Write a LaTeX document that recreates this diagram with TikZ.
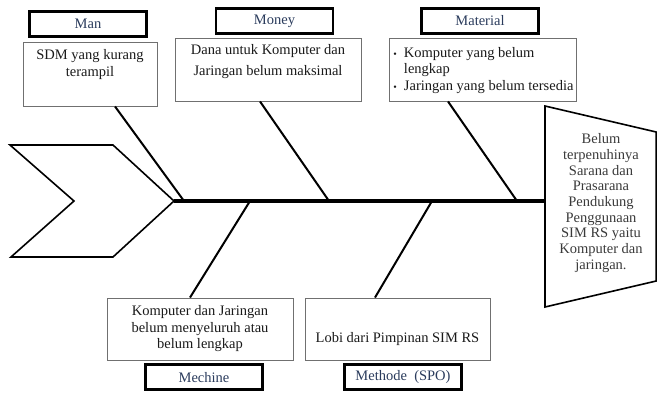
\documentclass[tikz,border=0pt]{standalone}
\usepackage{fontspec}
\setmainfont{Liberation Serif}
\usetikzlibrary{positioning,calc}
\definecolor{fishink}{HTML}{1A1A1A}
\definecolor{fishnavy}{HTML}{2A3B5C}
\definecolor{fishgrey}{HTML}{707070}
\definecolor{fishhead}{HTML}{3A3A3A}
\newcommand{\causefont}{\fontsize{14.5}{16.5}\selectfont}
\newcommand{\headfont}{\fontsize{14.5}{15.7}\selectfont}
\newcommand{\dotmark}{{\fontsize{10}{10}\selectfont\textbullet}}
\tikzset{
  cause/.style={draw=fishgrey, line width=0.9pt, fill=white, inner sep=0pt},
  tag/.style={draw=black, line width=2.2pt, minimum width=117pt, minimum height=25pt, inner sep=0pt, text=fishnavy, font=\causefont},
  txt/.style={align=center, font=\causefont, text=fishink, inner sep=0pt},
  bone/.style={line width=2pt, color=black},
  spine/.style={line width=4pt, color=black},
  outl/.style={line width=1.6pt, color=black, line join=miter},
}
\begin{document}
\begin{tikzpicture}[x=1pt, y=-1pt]
  \useasboundingbox (0,0) rectangle (657,392);
  % upper causes
  \node[cause, minimum width=134pt, minimum height=64pt] (man) at (90,74) {};
  \node[tag, above=4pt of man, xshift=-2pt] (mantag) {Man};
  \node[txt, below=8pt of man.north] (mantxt) {SDM yang kurang\\terampil};
  \node[cause, minimum width=186pt, minimum height=63pt] (money) at (268,69.5) {};
  \node[tag, above=3pt of money, xshift=6.5pt] (moneytag) {Money};
  \node[txt, below=7pt of money.north] (moneytxt) {Dana untuk Komputer dan\\[4.5pt]Jaringan belum maksimal};
  \node[cause, minimum width=187pt, minimum height=63pt] (mat) at (482.5,69.5) {};
  \node[tag, above=3pt of mat, xshift=-2.5pt] (mattag) {Material};
  \node[txt, align=left, below=8pt of mat.north, xshift=1pt] (mattxt) {\begin{tabular}{@{}l@{\hspace{7pt}}l@{}}\dotmark & Komputer yang belum\\ & lengkap\\ \dotmark & Jaringan yang belum tersedia\end{tabular}};
  % lower causes
  \node[cause, minimum width=186pt, minimum height=62pt] (mech) at (200,329) {};
  \node[tag, below=3pt of mech, xshift=4pt] (mechtag) {Mechine};
  \node[txt] (mechtxt) at (mech) {Komputer dan Jaringan\\belum menyeluruh atau\\belum lengkap};
  \node[cause, minimum width=185pt, minimum height=62pt] (meth) at (397.5,329) {};
  \node[tag, below=3pt of meth, xshift=5.5pt] (methtag) {Methode~ (SPO)};
  \node[txt, yshift=-10pt] (methtxt) at (meth) {Lobi dari Pimpinan SIM RS};
  % tail, spine and head
  \coordinate (tip) at (174,201);
  \coordinate (neck) at (545,201);
  \draw[outl] (10,145) -- (113,145) -- (tip) -- (113,257) -- (11,257) -- (74,201) -- cycle;
  \draw[spine] (tip) -- (neck);
  \draw[outl] (545,106) -- (656.2,132) -- (656.2,281) -- (545,307) -- cycle;
  \node[align=center, font=\headfont, text=fishhead, inner sep=0pt] (effect) at (601,203) {Belum\\terpenuhinya\\Sarana dan\\Prasarana\\Pendukung\\Penggunaan\\SIM RS yaitu\\Komputer dan\\jaringan.};
  % bones
  \coordinate (j1) at (184,201);
  \coordinate (j2) at (329,201);
  \coordinate (j3) at (517,201);
  \coordinate (j4) at (250,201);
  \coordinate (j5) at (432,201);
  \draw[bone] ($(man.south)+(25,0)$) -- (j1);
  \draw[bone] ($(money.south)+(-8,0)$) -- (j2);
  \draw[bone] ($(mat.south)+(-34.5,0)$) -- (j3);
  \draw[bone] (j4) -- ($(mech.north)+(-10,0)$);
  \draw[bone] (j5) -- ($(meth.north)+(-22.5,0)$);
\end{tikzpicture}
\end{document}
